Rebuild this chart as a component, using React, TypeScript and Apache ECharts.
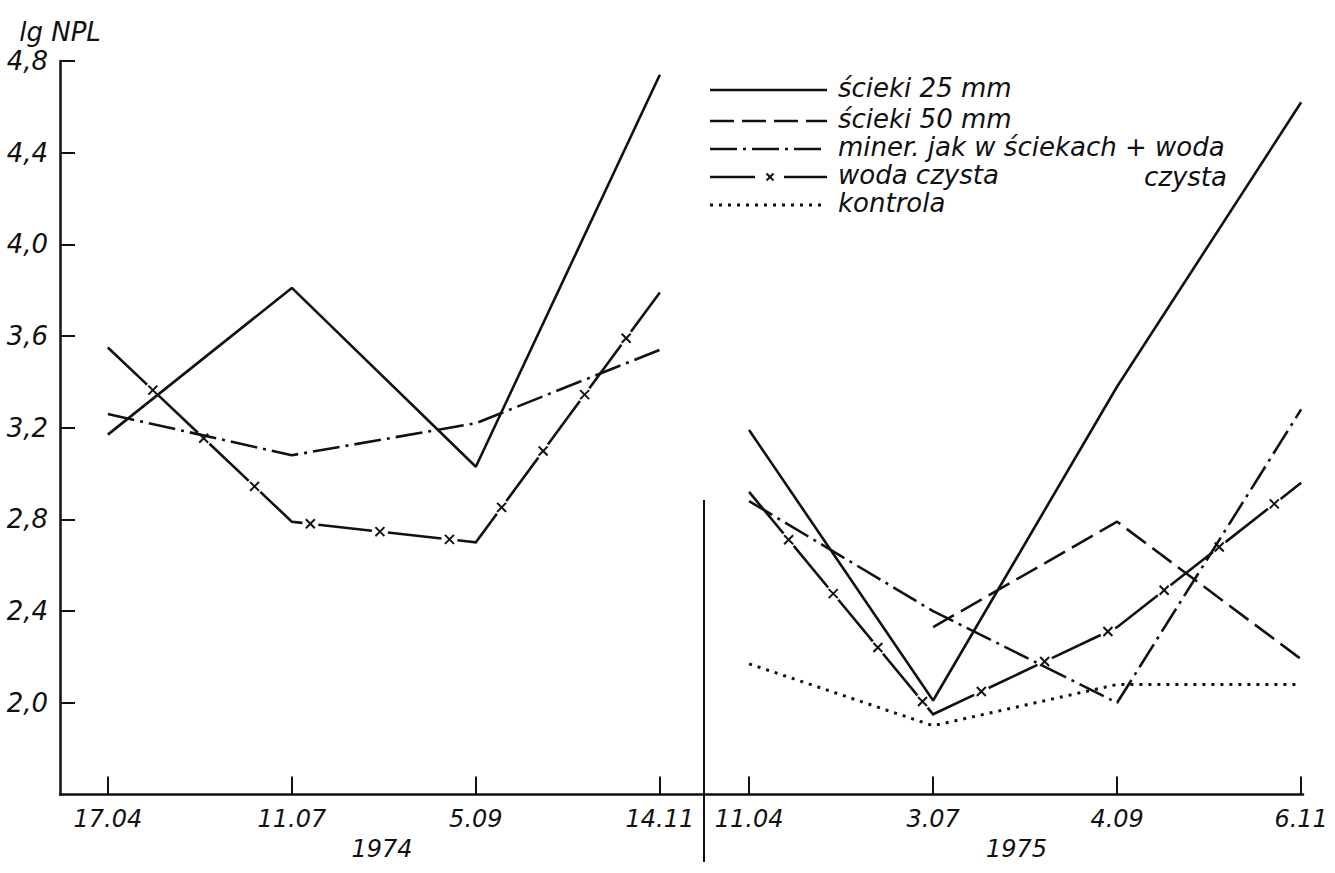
import React, { useEffect, useRef } from 'react';
import * as echarts from 'echarts';

// ---- data ----
const cats1974 = ['17.04', '11.07', '5.09', '14.11'];
const cats1975 = ['11.04', '3.07', '4.09', '6.11'];
const yTicks = [2.0, 2.4, 2.8, 3.2, 3.6, 4.0, 4.4, 4.8];
const xTickIdx = [0, 1, 2, 3];

const scieki25_1974 = [3.17, 3.81, 3.03, 4.74];
const scieki25_1975 = [3.19, 2.01, 3.38, 4.62];
const scieki50_1975 = [null, 2.33, 2.79, 2.19];
const miner_1974 = [3.26, 3.08, 3.22, 3.54];
const miner_1975 = [2.88, 2.4, 2.0, 3.28];
const woda_1974 = [3.55, 2.79, 2.7, 3.79];
const woda_1975 = [2.92, 1.95, 2.33, 2.96];
const kontrola_1975 = [2.17, 1.9, 2.08, 2.08];

const legendNames = ['ścieki 25 mm', 'ścieki 50 mm', 'miner. jak w ściekach + woda', 'woda czysta', 'kontrola'];
const legendExtra = 'czysta';
const yearLabels = ['1974', '1975'];
const yName = 'lg NPL';

// ---- styles ----
const INK = '#111';
const LW = 2.6;
const FONT = '"DejaVu Sans", "Liberation Sans", sans-serif';
const DASHED = [24, 8];
const DASHDOT = [27, 6, 3, 6];
const DOTTED = [3, 6];
const WDASH = 54;
const WGAP = 16;

const toPairs = (arr: (number | null)[]) =>
  arr.map((v, i) => (v == null ? null : [i, v])).filter((p) => p !== null) as number[][];

function lineSeries(name: string, data: (number | null)[], g: number, type: any, width = LW) {
  return {
    type: 'line',
    name,
    xAxisIndex: g,
    yAxisIndex: g,
    data: toPairs(data),
    symbol: 'none',
    showSymbol: false,
    silent: true,
    clip: false,
    lineStyle: { color: INK, width, type, cap: 'butt' },
  };
}

function cross(cx: number, cy: number, s = 4.5) {
  return {
    type: 'group',
    children: [
      { type: 'line', shape: { x1: cx - s, y1: cy - s, x2: cx + s, y2: cy + s }, style: { stroke: INK, lineWidth: 2 } },
      { type: 'line', shape: { x1: cx - s, y1: cy + s, x2: cx + s, y2: cy - s }, style: { stroke: INK, lineWidth: 2 } },
    ],
  };
}

function wodaSeries(name: string, data: (number | null)[], g: number) {
  const pairs = toPairs(data);
  return {
    type: 'custom',
    name,
    xAxisIndex: g,
    yAxisIndex: g,
    data: pairs,
    silent: true,
    clip: false,
    renderItem: (params: any, api: any) => {
      if (params.dataIndex !== 0) return { type: 'group', children: [] };
      const pts = pairs.map((p) => api.coord(p));
      const children: any[] = [
        {
          type: 'polyline',
          shape: { points: pts },
          style: { stroke: INK, lineWidth: LW, fill: 'none', lineDash: [WDASH, WGAP] },
        },
      ];
      let acc = 0;
      let next = WDASH + WGAP / 2;
      for (let i = 0; i < pts.length - 1; i++) {
        const [x0, y0] = pts[i];
        const [x1, y1] = pts[i + 1];
        const len = Math.hypot(x1 - x0, y1 - y0);
        while (next <= acc + len) {
          const t = (next - acc) / len;
          children.push(cross(x0 + (x1 - x0) * t, y0 + (y1 - y0) * t));
          next += WDASH + WGAP;
        }
        acc += len;
      }
      return { type: 'group', children };
    },
  };
}

function buildLegend() {
  const rows = [90, 121, 149, 177, 205];
  const x1 = 710;
  const x2 = 827;
  const tx = 838;
  const els: any[] = [];
  const dashes: any[] = [null, DASHED, DASHDOT, null, DOTTED];
  rows.forEach((y, i) => {
    if (i === 3) {
      els.push({ type: 'line', shape: { x1, y1: y, x2: 755, y2: y }, style: { stroke: INK, lineWidth: LW } });
      els.push({ type: 'line', shape: { x1: 784, y1: y, x2, y2: y }, style: { stroke: INK, lineWidth: LW } });
      els.push(cross(770, y, 3.5));
    } else {
      els.push({
        type: 'line',
        shape: { x1, y1: y, x2, y2: y },
        style: { stroke: INK, lineWidth: i === 4 ? 3 : LW, lineDash: dashes[i] || undefined },
      });
    }
    els.push({
      type: 'text',
      x: tx,
      y: y - 2,
      style: {
        text: legendNames[i],
        fill: INK,
        fontSize: 26,
        fontStyle: 'italic',
        fontFamily: FONT,
        verticalAlign: 'middle',
        align: 'left',
      },
    });
  });
  els.push({
    type: 'text',
    x: 1227,
    y: 177,
    style: {
      text: legendExtra,
      fill: INK,
      fontSize: 26,
      fontStyle: 'italic',
      fontFamily: FONT,
      verticalAlign: 'middle',
      align: 'right',
    },
  });
  // divider between the two years
  els.push({ type: 'line', shape: { x1: 704, y1: 500, x2: 704, y2: 862 }, style: { stroke: INK, lineWidth: 2 } });
  return els;
}

const labelStyle = { color: INK, fontStyle: 'italic', fontFamily: FONT };

function xAxis(g: number, cats: string[], min: number, max: number, year: string, namePad: number[]) {
  return {
    type: 'value',
    gridIndex: g,
    min,
    max,
    splitLine: { show: false },
    axisLine: { show: true, onZero: false, lineStyle: { color: INK, width: 2.5 } },
    axisTick: { show: true, inside: true, length: 18, customValues: xTickIdx, lineStyle: { color: INK, width: 2 } },
    axisLabel: {
      ...labelStyle,
      fontSize: 24,
      margin: 12,
      customValues: xTickIdx,
      formatter: (v: number) => cats[Math.round(v)] ?? '',
    },
    name: year,
    nameLocation: 'middle',
    nameGap: 42,
    nameTextStyle: { ...labelStyle, fontSize: 24, padding: namePad },
  };
}

export default function App() {
  const ref = useRef<HTMLDivElement>(null);
  useEffect(() => {
    if (!ref.current) return;
    const chart = echarts.init(ref.current, null, { renderer: 'svg' });
    const option: any = {
      animation: false,
      backgroundColor: '#fff',
      grid: [
        { left: 60, top: 61, width: 644, height: 733.5 },
        { left: 704, top: 61, width: 599, height: 733.5 },
      ],
      xAxis: [
        xAxis(0, cats1974, -0.26, 3.24, yearLabels[0], [0, 0, 0, 0]),
        xAxis(1, cats1975, -0.245, 3.01, yearLabels[1], [0, 0, 0, 26]),
      ],
      yAxis: [
        {
          type: 'value',
          gridIndex: 0,
          min: 1.6,
          max: 4.8,
          splitLine: { show: false },
          axisLine: { show: true, onZero: false, lineStyle: { color: INK, width: 2.5 } },
          axisTick: { show: true, inside: true, length: 15, customValues: yTicks, lineStyle: { color: INK, width: 2 } },
          axisLabel: {
            ...labelStyle,
            fontSize: 26,
            margin: 12,
            customValues: yTicks,
            formatter: (v: number) => v.toFixed(1).replace('.', ','),
          },
          name: yName,
          nameLocation: 'end',
          nameGap: 16,
          nameTextStyle: { ...labelStyle, fontSize: 26, align: 'center', verticalAlign: 'bottom' },
        },
        { type: 'value', gridIndex: 1, min: 1.6, max: 4.8, show: false },
      ],
      graphic: buildLegend(),
      series: [
        lineSeries(legendNames[0], scieki25_1974, 0, 'solid'),
        lineSeries(legendNames[0], scieki25_1975, 1, 'solid'),
        lineSeries(legendNames[1], scieki50_1975, 1, DASHED),
        lineSeries(legendNames[2], miner_1974, 0, DASHDOT),
        lineSeries(legendNames[2], miner_1975, 1, DASHDOT),
        wodaSeries(legendNames[3], woda_1974, 0),
        wodaSeries(legendNames[3], woda_1975, 1),
        lineSeries(legendNames[4], kontrola_1975, 1, DOTTED, 3),
      ],
    };
    chart.setOption(option);
    return () => chart.dispose();
  }, []);
  return (
    <div
      ref={ref}
      style={{ position: 'fixed', left: 0, top: 0, width: 1335, height: 873, background: '#fff' }}
    />
  );
}
